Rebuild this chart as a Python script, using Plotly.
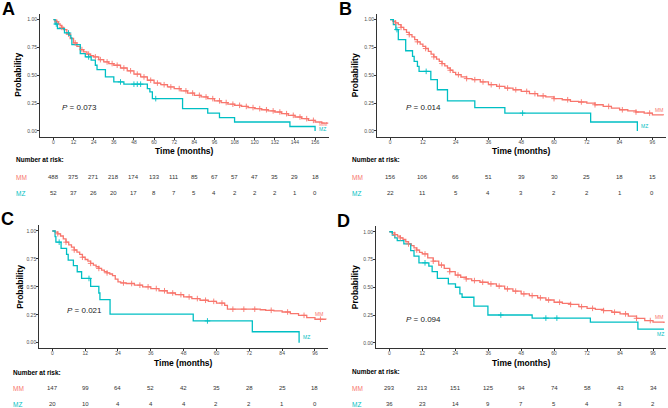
import numpy as np
import plotly.graph_objects as go

W, H = 668, 408
RED = "#F8766D"
TEAL = "#00BFC4"
FONT = "Liberation Sans, Arial, sans-serif"

# ---------------- data ----------------
# Panel A
a_mm_t = [0,1,2,3,4,5,6,8,10,12,14,16,18,20,22,24,27,30,33,36,40,44,48,52,56,60,64,68,72,76,80,84,88,92,96,100,104,108,112,116,120,124,128,132,136,140,144,148,152,156,160,164]
a_mm_s = [1.0,0.99,0.98,0.96,0.945,0.93,0.91,0.87,0.83,0.79,0.76,0.73,0.71,0.69,0.675,0.665,0.64,0.62,0.605,0.59,0.565,0.54,0.51,0.485,0.455,0.43,0.415,0.395,0.38,0.36,0.34,0.32,0.305,0.29,0.27,0.255,0.24,0.23,0.22,0.21,0.20,0.19,0.18,0.17,0.155,0.14,0.125,0.11,0.095,0.08,0.07,0.07]
a_mz_t = [0,1.0,2.4,6.6,9.5,10.4,11.0,16.0,19.0,22.5,25.0,26.0,31.0,36.0,42.0,56.0,57.5,59.0,77.0,92.0,99.0,108.0,141.0,156.0]
a_mz_s = [1.0,0.96,0.92,0.88,0.86,0.835,0.775,0.695,0.665,0.635,0.59,0.55,0.485,0.44,0.42,0.38,0.35,0.29,0.20,0.16,0.12,0.08,0.04,0.0]
a_mm_cens = [2,5,9,13,17,21,25,28,32,35,38,42,46,50,54,58,62,66,70,75,79,83,87,91,95,99,103,107,111,115,119,123,127,131,135,139,143,147,151,155]
a_mz_cens = [1.7,9.0,21.0,40.0,48.0,50.0,52.0,61.0]
a_ticks = [0,12,24,36,48,60,72,84,96,108,120,132,144,156]
a_risk_mm = [488,375,271,218,174,133,111,85,67,57,47,35,29,18]
a_risk_mz = [52,37,26,20,17,8,7,5,4,2,2,2,1,0]

# Panel B
b_mm_t = [0,1,2,3,4,5,6,7,8,9,10,11,12,13,14,15,16,17,18,19,20,21,22,23,24,26,28,30,33,36,39,42,45,48,51,54,57,60,63,66,69,72,75,78,81,84,87,90,93,96,100]
b_mm_s = [1.0,0.985,0.97,0.955,0.93,0.91,0.885,0.865,0.845,0.82,0.80,0.78,0.76,0.74,0.715,0.69,0.665,0.645,0.625,0.605,0.585,0.565,0.545,0.525,0.505,0.485,0.47,0.46,0.44,0.415,0.40,0.385,0.37,0.355,0.335,0.315,0.305,0.29,0.28,0.265,0.26,0.25,0.235,0.22,0.205,0.19,0.18,0.17,0.16,0.145,0.14]
b_mz_t = [0,1.2,2.1,3.0,5.7,8.2,8.8,10.0,10.6,14.9,17.3,21.0,31.0,42.0,73.4,90.5]
b_mz_s = [1.0,0.955,0.91,0.82,0.72,0.67,0.625,0.58,0.535,0.46,0.37,0.27,0.21,0.16,0.08,0.0]
b_mm_cens = [2,4,7,10,13,16,19,22,25,28,31,34,37,40,43,46,50,53,56,60,65,70,75,80,85,90,95]
b_mz_cens = [2.5,13.2,48.5]
b_ticks = [0,12,24,36,48,60,72,84,96]
b_risk_mm = [156,106,66,51,39,30,25,18,15]
b_risk_mz = [22,11,5,4,3,2,2,1,0]

# Panel C
c_mm_t = [0,1,2,3,4,5,6,7,8,9,10,11,12,13,14,15,16,17,18,19,20,21,22,23,24,25,27,30,33,36,39,42,45,48,51,54,57,60,63,64,76,78,81,84,87,90,93,96,100]
c_mm_s = [1.0,0.99,0.975,0.955,0.93,0.90,0.875,0.855,0.83,0.81,0.79,0.765,0.745,0.73,0.71,0.695,0.68,0.665,0.65,0.635,0.625,0.615,0.60,0.57,0.545,0.535,0.53,0.515,0.50,0.485,0.465,0.445,0.43,0.41,0.395,0.38,0.37,0.355,0.335,0.30,0.295,0.29,0.285,0.275,0.26,0.245,0.225,0.21,0.207]
c_mz_t = [0,1.0,1.3,3.2,5.2,5.8,7.7,9.1,10.7,14.0,17.0,17.4,21.1,51.5,73.1,90.2]
c_mz_s = [1.0,0.95,0.90,0.845,0.79,0.74,0.69,0.635,0.575,0.505,0.445,0.385,0.255,0.195,0.098,0.0]
c_mm_cens = [2,5,8,11,14,17,20,26,29,32,35,38,41,44,47,50,53,56,59,62,66,70,74,80,86,92,98]
c_mz_cens = [2.5,13.4,56.7]
c_ticks = [0,12,24,36,48,60,72,84,96]
c_risk_mm = [147,99,64,52,42,35,28,25,18]
c_risk_mz = [20,10,4,4,4,2,2,1,0]

# Panel D
d_mm_t = [0,1,2,3,4,5,6,7,8,9,10,11,12,14,16,18,20,22,24,26,28,30,33,36,39,42,45,48,51,54,57,60,63,66,69,72,75,78,81,84,87,90,93,96,100]
d_mm_s = [1.0,0.99,0.975,0.96,0.945,0.93,0.91,0.89,0.875,0.855,0.835,0.815,0.80,0.765,0.735,0.70,0.67,0.64,0.61,0.59,0.575,0.56,0.545,0.53,0.51,0.485,0.465,0.44,0.425,0.405,0.385,0.365,0.355,0.345,0.325,0.31,0.30,0.29,0.275,0.26,0.24,0.22,0.20,0.185,0.177]
d_mz_t = [0,1.1,2.0,2.9,5.3,7.8,9.0,10.8,14.4,15.6,17.5,21.5,24.1,25.7,26.5,30.8,35.9,52.0,73.2,90.5,100]
d_mz_s = [1.0,0.97,0.945,0.92,0.89,0.83,0.78,0.72,0.69,0.64,0.58,0.53,0.50,0.44,0.41,0.33,0.25,0.222,0.185,0.123,0.123]
d_mm_cens = [2,4,7,10,13,16,19,22,25,28,31,34,37,40,43,46,49,52,55,58,62,66,70,74,78,82,86,90,95]
d_mz_cens = [13.0,40.6,57.0,61.0]
d_ticks = [0,12,24,36,48,60,72,84,96]
d_risk_mm = [293,213,151,125,94,74,58,43,34]
d_risk_mz = [36,23,14,9,7,5,4,3,2]

pvals = ["0.073", "0.014", "0.021", "0.094"]
letters = ["A", "B", "C", "D"]

# ---------------- layout geometry (pixels) ----------------
panels = [
    dict(mm_t=a_mm_t, mm_s=a_mm_s, mz_t=a_mz_t, mz_s=a_mz_s, mm_c=a_mm_cens, mz_c=a_mz_cens,
         ticks=a_ticks, rmm=a_risk_mm, rmz=a_risk_mz, xr=[-8, 164], xpx=[40, 328.5], ypx=[14, 136.5],
         letter_xy=(8, 8.5), ylab_x=18.5, title_y=150.5, nar_y=159.5, row_mm=177, row_mz=193, lab_x=14,
         p_xy=(4, 0.21), mm_lab=(160.6, 0.06), mz_lab=(160.6, 0.015)),
    dict(mm_t=b_mm_t, mm_s=b_mm_s, mz_t=b_mz_t, mz_s=b_mz_s, mm_c=b_mm_cens, mz_c=b_mz_cens,
         ticks=b_ticks, rmm=b_risk_mm, rmz=b_risk_mz, xr=[-4.8, 100.8], xpx=[377, 665.5], ypx=[14, 136.5],
         letter_xy=(345, 9), ylab_x=355, title_y=150.5, nar_y=159.5, row_mm=177, row_mz=193, lab_x=350,
         p_xy=(5, 0.21), mm_lab=(98.4, 0.19), mz_lab=(93, 0.04)),
    dict(mm_t=c_mm_t, mm_s=c_mm_s, mz_t=c_mz_t, mz_s=c_mz_s, mm_c=c_mm_cens, mz_c=c_mz_cens,
         ticks=c_ticks, rmm=c_risk_mm, rmz=c_risk_mz, xr=[-4.8, 100.8], xpx=[39.2, 328.1], ypx=[225.4, 348.3],
         letter_xy=(7.5, 219), ylab_x=20, title_y=363, nar_y=372, row_mm=388, row_mz=404, lab_x=11,
         p_xy=(4.5, 0.29), mm_lab=(97.6, 0.26), mz_lab=(93, 0.05)),
    dict(mm_t=d_mm_t, mm_s=d_mm_s, mz_t=d_mz_t, mz_s=d_mz_s, mm_c=d_mm_cens, mz_c=d_mz_cens,
         ticks=d_ticks, rmm=d_risk_mm, rmz=d_risk_mz, xr=[-4.8, 100.8], xpx=[376.1, 666.2], ypx=[226.2, 348.3],
         letter_xy=(343, 221), ylab_x=355, title_y=363.3, nar_y=371.7, row_mm=388.3, row_mz=404.3, lab_x=350,
         p_xy=(5.5, 0.21), mm_lab=(98, 0.23), mz_lab=(98.7, 0.076)),
]


def step_at(ts, ss, t):
    idx = np.searchsorted(np.asarray(ts), np.asarray(t), side="right") - 1
    return np.asarray(ss)[idx]


def py(px):
    return 1 - px / H


def pxx(px):
    return px / W


def ann(text, x, y, xref="paper", yref="paper", xanchor="center", size=6, color="black", **kw):
    return dict(text=text, x=x, y=y, xref=xref, yref=yref, xanchor=xanchor, yanchor="middle",
                showarrow=False, font=dict(size=size, color=color, family=FONT), **kw)


fig = go.Figure()
annotations = []
layout_axes = {}

for i, p in enumerate(panels, start=1):
    xa = f"x{i}" if i > 1 else "x"
    ya = f"y{i}" if i > 1 else "y"
    xkey = f"xaxis{i}" if i > 1 else "xaxis"
    ykey = f"yaxis{i}" if i > 1 else "yaxis"

    for t, s, c in [(p["mm_t"], p["mm_s"], RED), (p["mz_t"], p["mz_s"], TEAL)]:
        fig.add_trace(go.Scatter(x=t, y=s, mode="lines", line=dict(color=c, width=1.3, shape="hv"),
                                 xaxis=xa, yaxis=ya, showlegend=False, hoverinfo="skip"))
    for ct, t, s, c in [(p["mm_c"], p["mm_t"], p["mm_s"], RED), (p["mz_c"], p["mz_t"], p["mz_s"], TEAL)]:
        fig.add_trace(go.Scatter(x=ct, y=step_at(t, s, ct), mode="markers",
                                 marker=dict(symbol="cross-thin", size=4, line=dict(width=0.9, color=c), color=c),
                                 xaxis=xa, yaxis=ya, showlegend=False, hoverinfo="skip"))

    layout_axes[xkey] = dict(domain=[pxx(p["xpx"][0]), pxx(p["xpx"][1])], range=p["xr"], anchor=ya,
                             showline=True, linecolor="#333333", linewidth=1, ticks="outside", ticklen=2,
                             tickcolor="#333333", tickwidth=0.8, tickvals=p["ticks"], ticklabelstandoff=-2,
                             tickfont=dict(size=5, color="#4d4d4d", family=FONT),
                             showgrid=False, zeroline=False, fixedrange=True)
    layout_axes[ykey] = dict(domain=[py(p["ypx"][1]), py(p["ypx"][0])], range=[-0.05, 1.05], anchor=xa,
                             showline=True, linecolor="#333333", linewidth=1, ticks="outside", ticklen=2,
                             tickcolor="#333333", tickwidth=0.8, tickvals=[0, 0.25, 0.5, 0.75, 1.0],
                             ticktext=["0.00", "0.25", "0.50", "0.75", "1.00"], ticklabelstandoff=-1,
                             tickfont=dict(size=5, color="#4d4d4d", family=FONT),
                             showgrid=False, zeroline=False, fixedrange=True)

    annotations.append(ann(f"<b>{letters[i-1]}</b>", pxx(p["letter_xy"][0]), py(p["letter_xy"][1]), size=18))
    annotations.append(ann("<b>Probability</b>", pxx(p["ylab_x"]), py((p["ypx"][0] + p["ypx"][1]) / 2),
                           size=8.5, textangle=-90))
    annotations.append(ann("<b>Time (months)</b>", pxx((p["xpx"][0] + p["xpx"][1]) / 2), py(p["title_y"]),
                           size=8.5))
    annotations.append(ann(f"<i>P</i> = {pvals[i-1]}", p["p_xy"][0], p["p_xy"][1], xref=xa, yref=ya,
                           xanchor="left", size=8, color="#222222"))
    annotations.append(ann("MM", p["mm_lab"][0], p["mm_lab"][1], xref=xa, yref=ya, size=5, color=RED))
    annotations.append(ann("MZ", p["mz_lab"][0], p["mz_lab"][1], xref=xa, yref=ya, size=5, color=TEAL))
    annotations.append(ann("<b>Number at risk:</b>", pxx(p["lab_x"]), py(p["nar_y"]), xanchor="left", size=6.5))
    annotations.append(ann("MM", pxx(p["lab_x"]), py(p["row_mm"]), xanchor="left", size=6.5, color=RED))
    annotations.append(ann("MZ", pxx(p["lab_x"]), py(p["row_mz"]), xanchor="left", size=6.5, color=TEAL))
    for t, vm, vz in zip(p["ticks"], p["rmm"], p["rmz"]):
        annotations.append(ann(str(vm), t, py(p["row_mm"]), xref=xa, size=6, color="#333333"))
        annotations.append(ann(str(vz), t, py(p["row_mz"]), xref=xa, size=6, color="#333333"))

fig.update_layout(width=W, height=H, margin=dict(l=0, r=0, t=0, b=0), plot_bgcolor="white",
                  paper_bgcolor="white", annotations=annotations, font=dict(family=FONT), **layout_axes)
fig.write_html("out.html", config={"displayModeBar": False},
               post_script="document.body.style.margin='0';document.body.style.padding='0';"
                           "document.body.style.overflow='hidden';")
